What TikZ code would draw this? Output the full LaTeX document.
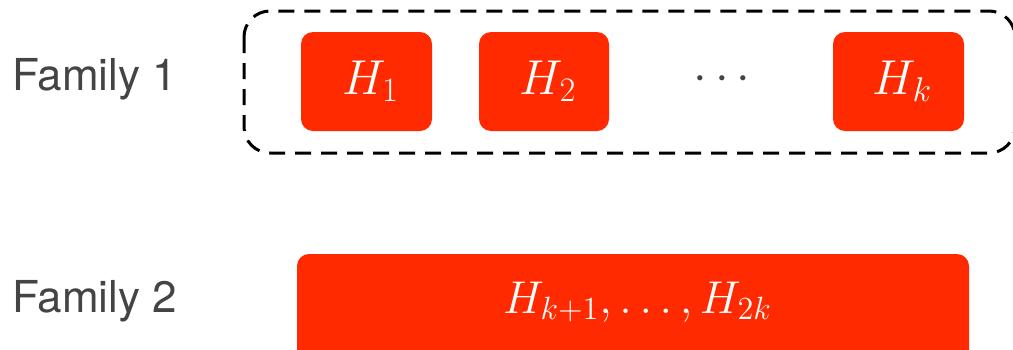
\RequirePackage{fix-cm}
\documentclass[tikz,border=0pt]{standalone}
\usepackage{fontspec}
\setsansfont{TeX Gyre Heros}
\definecolor{hred}{RGB}{255,42,0}
\definecolor{labgray}{RGB}{68,68,68}
\begin{document}
\begin{tikzpicture}[x=0.5pt,y=-0.5pt,
  hbox/.style={fill=hred,draw=none,rounded corners=6pt,text=white,
    font=\fontsize{24.5}{29}\selectfont,inner sep=0pt},
  famlabel/.style={text=labgray,font=\sffamily\fontsize{22}{27}\selectfont,anchor=west,inner sep=0pt},
  groupbox/.style={draw=black,line width=1.5pt,dash pattern=on 8pt off 5pt,rounded corners=13pt}]
\useasboundingbox (0,0) rectangle (1013,349);
\clip (0,0) rectangle (1013,349);
% group box
\draw[groupbox] (244,11) rectangle (1015,153);
% family 1 boxes
\node[hbox,minimum width=65.5pt,minimum height=49.5pt] (h1) at (366.5,81.5) {\,$H_1$};
\node[hbox,minimum width=65pt,minimum height=49.5pt] (h2) at (544,81.5) {\,$H_2$};
\node[text=labgray,font=\fontsize{24.5}{29}\selectfont] (dots) at (722,80) {$\cdots$};
\node[hbox,minimum width=65.5pt,minimum height=49.5pt] (hk) at (898.5,81.5) {\,$H_k$};
% family 2 box
\node[hbox,minimum width=336pt,minimum height=60pt] (hbig) at (633,314) {};
\node[text=white,font=\fontsize{23}{28}\selectfont] (hbigtext) at (637.5,302) {$H_{k+1},\ldots,H_{2k}$};
% labels
\node[famlabel] (f1) at (12,79) {Family 1};
\node[famlabel] (f2) at (12,301) {Family 2};
\end{tikzpicture}
\end{document}
